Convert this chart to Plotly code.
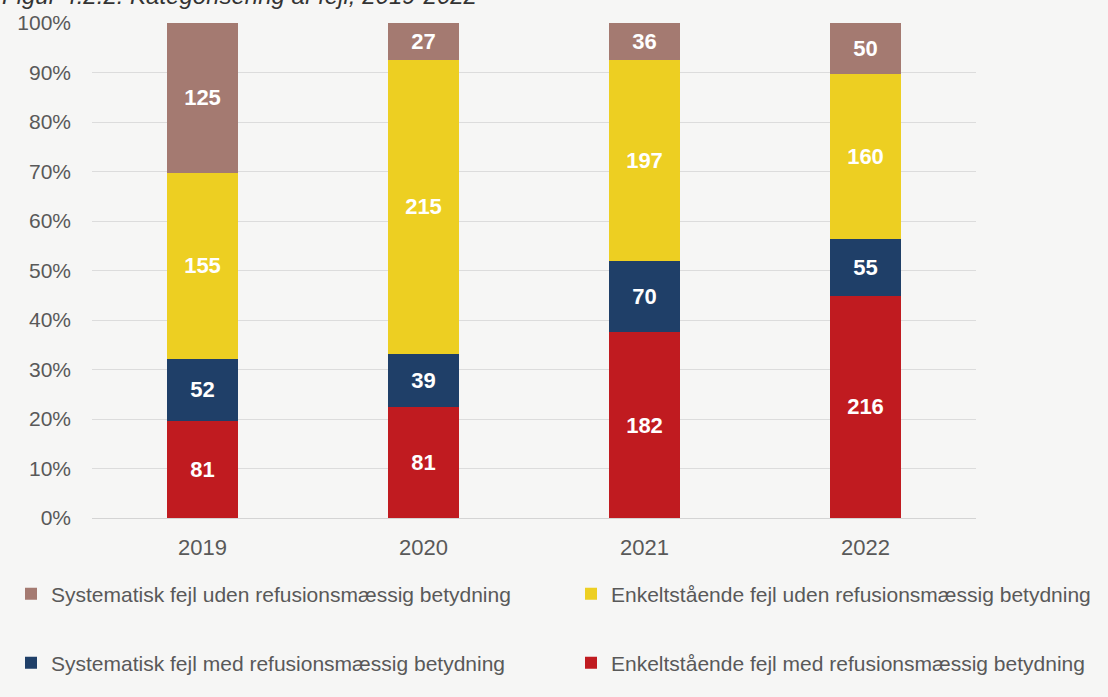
import plotly.graph_objects as go

years = ["2019", "2020", "2021", "2022"]
enkelt_med = [81, 81, 182, 216]
system_med = [52, 39, 70, 55]
enkelt_uden = [155, 215, 197, 160]
system_uden = [125, 27, 36, 50]

names = [
    "Enkeltstående fejl med refusionsmæssig betydning",
    "Systematisk fejl med refusionsmæssig betydning",
    "Enkeltstående fejl uden refusionsmæssig betydning",
    "Systematisk fejl uden refusionsmæssig betydning",
]
colors = ["#c01b20", "#1f3f68", "#edcf22", "#a47a71"]
# one legend per series so the 2x2 grid can be placed freely
legends = ["legend4", "legend3", "legend2", "legend"]
leg_pos = {"legend": (11, 594), "legend2": (571, 594), "legend3": (11, 663), "legend4": (571, 663)}

fnt = "Liberation Sans, Arial, sans-serif"
grey = "#595959"
W, H = 1108, 697

fig = go.Figure()
for vals, name, col, lg in zip([enkelt_med, system_med, enkelt_uden, system_uden], names, colors, legends):
    fig.add_trace(go.Bar(
        x=years, y=vals, name=name, marker_color=col, marker_line_width=0,
        text=[str(v) for v in vals], textposition="inside", insidetextanchor="middle",
        textfont=dict(family=fnt, size=22, color="white", weight="bold"),
        legend=lg, showlegend=True,
    ))

layout_legends = {}
for lg, (px, py) in leg_pos.items():
    layout_legends[lg] = dict(
        orientation="h", xref="container", yref="container",
        x=px / W, y=1 - py / H, xanchor="left", yanchor="middle",
        itemwidth=30, font=dict(size=21, color=grey), bgcolor="rgba(0,0,0,0)",
    )

fig.update_layout(
    barmode="stack", barnorm="percent", bargap=0.68,
    width=W, height=H, showlegend=True,
    margin=dict(l=92, r=132, t=23, b=179, autoexpand=False),
    paper_bgcolor="#f6f6f5", plot_bgcolor="#f6f6f5",
    font=dict(family=fnt, color=grey, size=18),
    uniformtext=dict(mode="show", minsize=10),
    **layout_legends,
)
fig.update_yaxes(range=[0, 100], dtick=10, ticksuffix="%", showgrid=True, gridcolor="#dcdcdc",
                 zeroline=False, tickfont=dict(size=21, color=grey), ticks="", ticklabelstandoff=20)
fig.update_xaxes(showline=True, linecolor="#d4d4d4", tickfont=dict(size=22, color=grey), ticks="",
                 ticklabelstandoff=10)

# title sits partly above the page edge, as in the original
fig.add_annotation(text="<i>Figur 4.2.2: Kategorisering af fejl, 2019-2022</i>", xref="paper", yref="paper",
                   x=-0.104, y=1, xanchor="left", yanchor="middle", yshift=28, showarrow=False,
                   font=dict(size=24, color="#333333"))

fig.write_html("out.html", config={"displayModeBar": False},
               post_script="document.body.style.margin='0';")
